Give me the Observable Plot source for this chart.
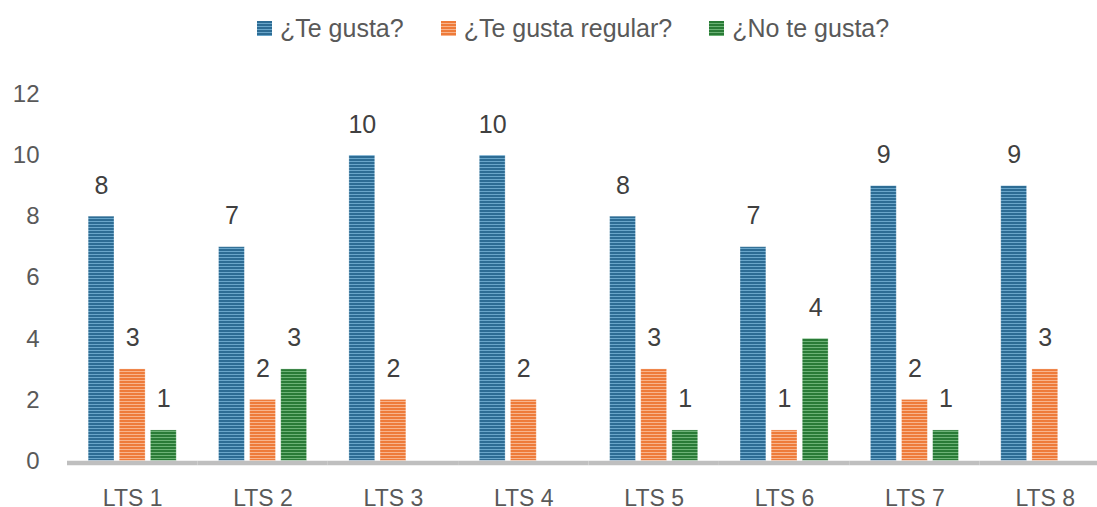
<!DOCTYPE html>
<html>
<head>
<meta charset="utf-8">
<script src="https://cdn.jsdelivr.net/npm/d3@7"></script>
<script src="https://cdn.jsdelivr.net/npm/@observablehq/plot@0.6"></script>
<style>
  html, body { margin: 0; padding: 0; background: #fff; overflow: hidden; width: 1097px; height: 507px; }
  #wrap { position: relative; width: 1097px; height: 507px; overflow: hidden; }
  #legend { position: absolute; top: 14px; left: 257px; display: flex; align-items: center;
            font-family: "Liberation Sans", Arial, sans-serif; font-size: 25px; color: #595959; white-space: nowrap; }
  .item { display: flex; align-items: center; margin-right: 37px; }
  .sw { width: 15px; height: 15px; margin-right: 8px; }
  #chart { position: absolute; top: 0; left: 0; width: 1110px; }
  #chart svg { max-width: none !important; }
</style>
</head>
<body>
<div id="wrap">
  <div id="chart"></div>
  <div id="legend"></div>
</div>
<script>
const categories = ["LTS 1", "LTS 2", "LTS 3", "LTS 4", "LTS 5", "LTS 6", "LTS 7", "LTS 8"];
const series = ["¿Te gusta?", "¿Te gusta regular?", "¿No te gusta?"];
const teGusta = [8, 7, 10, 10, 8, 7, 9, 9];
const teGustaRegular = [3, 2, 2, 2, 3, 1, 2, 3];
const noTeGusta = [1, 3, 0, 0, 1, 4, 1, 0];
const yTicks = [0, 2, 4, 6, 8, 10, 12];

const seriesValues = [teGusta, teGustaRegular, noTeGusta];
const stripes = [
  {id: "pBlue", dark: "#2d6c94", light: "#6aa6ca"},
  {id: "pOrange", dark: "#ee7b3a", light: "#f8b48c"},
  {id: "pGreen", dark: "#2a7b37", light: "#6cb276"}
];

const rows = categories.flatMap((c, i) =>
  series.map((s, j) => ({cat: c, series: s, value: seriesValues[j][i]}))
);

const svg = Plot.plot({
  width: 1110,
  height: 507,
  marginLeft: 67,
  marginRight: 0,
  marginTop: 94,
  marginBottom: 46.5,
  style: {fontFamily: "'Liberation Sans', Arial, sans-serif", fontSize: "23px", color: "#595959", background: "transparent", maxWidth: "none"},
  fx: {domain: categories, paddingInner: 0, paddingOuter: 0, round: false},
  x: {domain: series, paddingInner: 0.17, paddingOuter: 0.68, round: false, axis: null},
  y: {domain: [0, 12]},
  color: {domain: series, range: stripes.map(p => `url(#${p.id})`)},
  marks: [
    Plot.axisY({ticks: yTicks, tickSize: 0, tickPadding: 28, fontSize: 24, fill: "#595959", label: null}),
    Plot.axisFx({anchor: "bottom", tickSize: 0, tickPadding: 29, fontSize: 23, fill: "#595959", label: null}),
    Plot.barY(rows, {fx: "cat", x: "series", y: "value", fill: "series", stroke: "white", strokeOpacity: 0.35, strokeWidth: 0.8}),
    Plot.ruleY([0], {stroke: "#bfbfbf", strokeWidth: 4.5, dy: 2}),
    Plot.text(rows.filter(d => d.value > 0), {
      fx: "cat", x: "series", y: "value", text: d => String(d.value),
      dy: -31, lineAnchor: "middle", fontSize: 25, fill: "#404040"
    })
  ]
});
svg.style.maxWidth = "none";

// stripe patterns for the bar fills
const defs = d3.create("svg:defs");
for (const p of stripes) {
  const pat = defs.append("pattern").attr("id", p.id).attr("patternUnits", "userSpaceOnUse")
    .attr("width", 4).attr("height", 3);
  pat.append("rect").attr("width", 4).attr("height", 3).attr("fill", p.light);
  pat.append("rect").attr("width", 4).attr("height", 2).attr("fill", p.dark);
}
svg.insertBefore(defs.node(), svg.firstChild);
document.getElementById("chart").appendChild(svg);

// legend
const legend = d3.select("#legend");
series.forEach((s, j) => {
  const it = legend.append("div").attr("class", "item");
  it.append("div").attr("class", "sw")
    .style("background", `repeating-linear-gradient(to bottom, ${stripes[j].dark} 0px, ${stripes[j].dark} 2px, ${stripes[j].light} 2px, ${stripes[j].light} 3px)`);
  it.append("span").text(s);
});
</script>
</body>
</html>
